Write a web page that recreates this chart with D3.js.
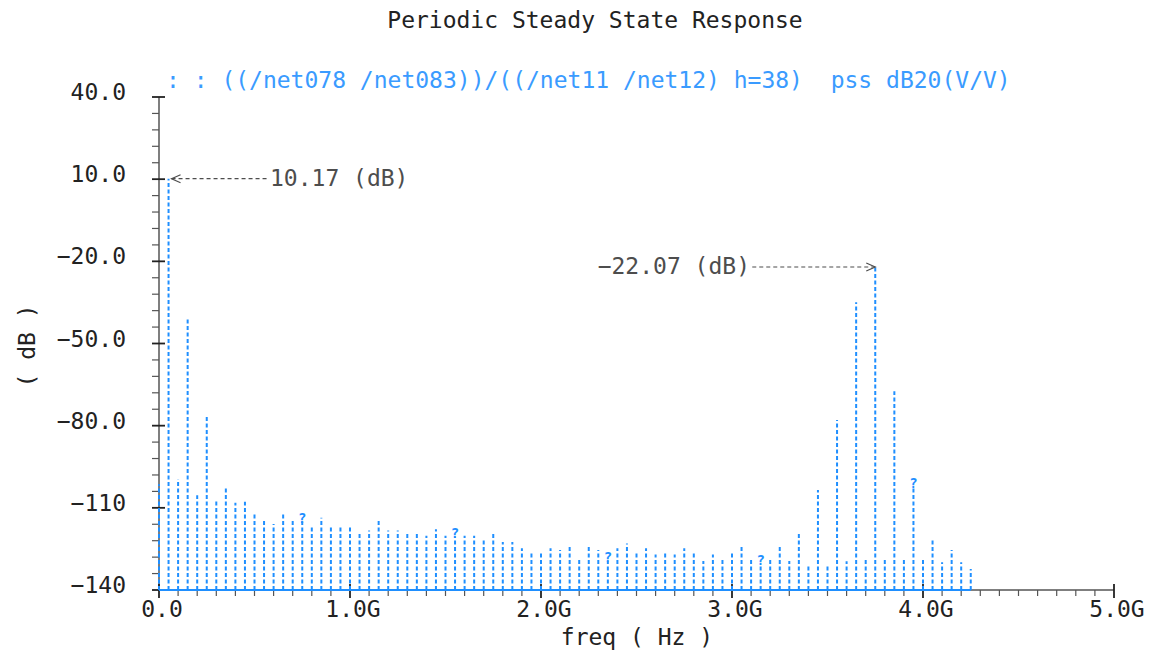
<!DOCTYPE html>
<html lang="en">
<head>
    <meta charset="UTF-8">
    <title>Periodic Steady State Response</title>
    <script src="https://d3js.org/d3.v7.min.js"></script>
    <style>
        body {
            margin: 0;
            background: white;
        }
        svg {
            display: block;
            font-family: "DejaVu Sans Mono", "Liberation Mono", monospace;
        }
        text {
            white-space: pre;
        }
    </style>
</head>
<body>
    <svg id="chart" width="1159" height="655"></svg>

    <script>
        // harmonic frequencies (GHz), 50 MHz spacing
        const freqs = [
            0.00, 0.05, 0.10, 0.15, 0.20, 0.25, 0.30, 0.35, 0.40, 0.45,
            0.50, 0.55, 0.60, 0.65, 0.70, 0.75, 0.80, 0.85, 0.90, 0.95,
            1.00, 1.05, 1.10, 1.15, 1.20, 1.25, 1.30, 1.35, 1.40, 1.45,
            1.50, 1.55, 1.60, 1.65, 1.70, 1.75, 1.80, 1.85, 1.90, 1.95,
            2.00, 2.05, 2.10, 2.15, 2.20, 2.25, 2.30, 2.35, 2.40, 2.45,
            2.50, 2.55, 2.60, 2.65, 2.70, 2.75, 2.80, 2.85, 2.90, 2.95,
            3.00, 3.05, 3.10, 3.15, 3.20, 3.25, 3.30, 3.35, 3.40, 3.45,
            3.50, 3.55, 3.60, 3.65, 3.70, 3.75, 3.80, 3.85, 3.90, 3.95,
            4.00, 4.05, 4.10, 4.15, 4.20, 4.25
        ];
        // pss dB20(V/V) per harmonic
        const gainDb = [
            -101.4, 10.17, -99.6, -41.2, -105.4, -76.4, -107.1, -102.0, -108.1, -107.8,
            -112.4, -114.8, -115.9, -112.4, -114.8, -115.0, -117.1, -113.6, -117.1, -117.1,
            -117.1, -119.4, -118.3, -114.8, -118.3, -118.3, -119.4, -119.3, -120.2, -117.8,
            -120.2, -120.5, -120.2, -120.2, -121.3, -119.3, -122.5, -122.5, -124.8, -126.0,
            -126.0, -124.8, -125.4, -123.6, -128.2, -123.6, -125.4, -129.5, -124.8, -123.0,
            -126.0, -124.8, -127.0, -126.0, -127.0, -124.8, -126.0, -129.4, -127.0, -128.2,
            -125.8, -124.0, -128.2, -130.5, -128.2, -123.6, -129.4, -119.3, -130.6, -103.5,
            -130.6, -77.9, -129.5, -34.9, -128.2, -22.07, -128.7, -67.4, -128.7, -102.5,
            -128.2, -121.7, -129.9, -125.4, -129.9, -132.3
        ];
        const markerIdx = [15, 31, 47, 63, 79];

        const yMajor = [40, 10, -20, -50, -80, -110, -140];
        const yLabels = ["40.0", "10.0", "−20.0", "−50.0", "−80.0", "−110", "−140"];
        const xMajor = [0, 1, 2, 3, 4, 5];
        const xLabels = ["0.0", "1.0G", "2.0G", "3.0G", "4.0G", "5.0G"];

        const titleText = "Periodic Steady State Response";
        const legendText = ": : ((/net078 /net083))/((/net11 /net12) h=38)  pss dB20(V/V)";

        const svg = d3.select("#chart");
        const x = d3.scaleLinear().domain([0, 5]).range([159, 1114]);
        const y = d3.scaleLinear().domain([-140, 40]).range([590, 97]);

        const axisColor = "#555";
        const blue = "#1f8fff";
        const grey = "#4d4d4d";
        const fs = 23;

        // title + legend
        svg.append("text")
            .attr("x", 595).attr("y", 28)
            .attr("text-anchor", "middle")
            .attr("font-size", fs)
            .attr("fill", "#222")
            .text(titleText);

        svg.append("text")
            .attr("x", 166).attr("y", 88)
            .attr("font-size", fs)
            .attr("fill", "#3a9bff")
            .text(legendText);

        // y axis
        const yAxis = svg.append("g");
        yAxis.append("line")
            .attr("x1", x(0)).attr("x2", x(0))
            .attr("y1", y(40)).attr("y2", y(-140))
            .attr("stroke", axisColor).attr("stroke-width", 1.5);
        d3.range(-140, 41, 6).forEach(v => {
            let major = yMajor.includes(v);
            yAxis.append("line")
                .attr("x1", x(0) - 7).attr("x2", major ? x(0) + 6 : x(0))
                .attr("y1", y(v)).attr("y2", y(v))
                .attr("stroke", major ? "#222" : axisColor)
                .attr("stroke-width", major ? 1.8 : 1.2);
        });
        yMajor.forEach((v, i) => {
            yAxis.append("text")
                .attr("x", 126).attr("y", y(v) + 3)
                .attr("text-anchor", "end")
                .attr("font-size", fs)
                .attr("fill", "#222")
                .text(yLabels[i]);
        });
        svg.append("text")
            .attr("transform", "translate(35,346) rotate(-90)")
            .attr("text-anchor", "middle")
            .attr("font-size", fs)
            .attr("fill", "#222")
            .text("( dB )");

        // x axis
        const xAxis = svg.append("g");
        xAxis.append("line")
            .attr("x1", x(0)).attr("x2", x(5))
            .attr("y1", y(-140)).attr("y2", y(-140))
            .attr("stroke", axisColor).attr("stroke-width", 1.5);
        d3.range(0, 51).forEach(k => {
            let f = k / 10;
            let major = k % 10 === 0;
            xAxis.append("line")
                .attr("x1", x(f)).attr("x2", x(f))
                .attr("y1", major ? y(-140) - 6 : y(-140))
                .attr("y2", y(-140) + (major ? 8 : 6))
                .attr("stroke", major ? "#222" : axisColor)
                .attr("stroke-width", major ? 1.8 : 1.2);
        });
        xMajor.forEach((f, i) => {
            xAxis.append("text")
                .attr("x", x(f) + 3).attr("y", 617)
                .attr("text-anchor", "middle")
                .attr("font-size", fs)
                .attr("fill", "#222")
                .text(xLabels[i]);
        });
        svg.append("text")
            .attr("x", 637).attr("y", 645)
            .attr("text-anchor", "middle")
            .attr("font-size", fs)
            .attr("fill", "#222")
            .text("freq ( Hz )");

        // stems
        const stems = svg.append("g");
        stems.selectAll("line")
            .data(freqs)
            .join("line")
            .attr("x1", d => x(d)).attr("x2", d => x(d))
            .attr("y1", y(-140))
            .attr("y2", (d, i) => y(gainDb[i]))
            .attr("stroke", blue)
            .attr("stroke-width", 2)
            .attr("stroke-dasharray", "4,2.5");
        stems.append("line")
            .attr("x1", x(freqs[0])).attr("x2", x(freqs[freqs.length - 1]))
            .attr("y1", y(-140)).attr("y2", y(-140))
            .attr("stroke", blue).attr("stroke-width", 2);
        markerIdx.forEach(i => {
            stems.append("text")
                .attr("x", x(freqs[i])).attr("y", y(gainDb[i]) + 1)
                .attr("text-anchor", "middle")
                .attr("font-size", 14)
                .attr("font-weight", "bold")
                .attr("fill", blue)
                .text("?");
        });

        // peak annotations
        function annotate(i, label, textX, side) {
            let px = x(freqs[i]) + (side === "left" ? 3 : 0);
            let py = y(gainDb[i]);
            let lineEnd = side === "left" ? textX - 2 : textX + 2;
            svg.append("line")
                .attr("x1", px).attr("x2", lineEnd)
                .attr("y1", py).attr("y2", py)
                .attr("stroke", grey).attr("stroke-width", 1.2)
                .attr("stroke-dasharray", "4,3");
            let dir = side === "left" ? 1 : -1;
            svg.append("polyline")
                .attr("points", [[px + dir * 9, py - 4], [px, py], [px + dir * 9, py + 4]].join(" "))
                .attr("fill", "none")
                .attr("stroke", grey).attr("stroke-width", 1.2);
            svg.append("text")
                .attr("x", textX).attr("y", py + 7)
                .attr("text-anchor", side === "left" ? "start" : "end")
                .attr("font-size", fs)
                .attr("fill", grey)
                .text(label);
        }
        annotate(1, "10.17 (dB)", 270, "left");
        annotate(75, "−22.07 (dB)", 750, "right");
    </script>
</body>
</html>
